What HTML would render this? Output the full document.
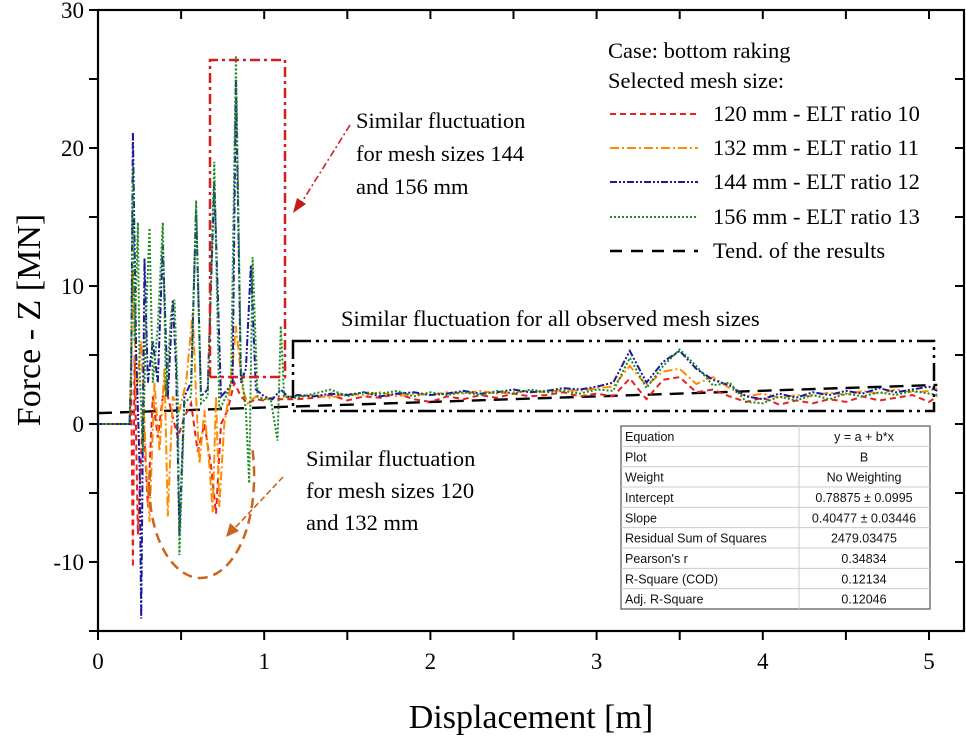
<!DOCTYPE html>
<html><head><meta charset="utf-8"><style>
html,body{margin:0;padding:0;background:#fff;}
svg{display:block;}
text{font-family:"Liberation Serif",serif;}
.tb{font-family:"Liberation Sans",sans-serif;font-size:12.5px;fill:#111;}
</style></head><body>
<svg id="chart" width="966" height="737" viewBox="0 0 966 737">
<g id="marks"></g>
<g id="axes"></g>
</svg>
<script>
const xTicks=[0,1,2,3,4,5];
const yTicks=[-10,0,10,20,30];
const tailX=[1.2,1.3,1.4,1.5,1.6,1.7,1.8,1.9,2.0,2.1,2.2,2.3,2.4,2.5,2.6,2.7,2.8,2.9,3.0,3.1,3.2,3.3,3.4,3.5,3.6,3.7,3.8,3.9,4.0,4.1,4.2,4.3,4.4,4.5,4.6,4.7,4.8,4.9,5.0,5.05];
const redX=[0,0.19,0.2,0.21,0.22,0.24,0.27,0.30,0.33,0.36,0.40,0.44,0.48,0.52,0.56,0.60,0.64,0.68,0.71,0.74,0.78,0.82,0.86,0.90,0.95,1.0,1.05,1.1,1.15];
const redY=[0,0,3,-10.4,5,-8,1,-6,2,-1,3,1,-1,0.5,1.5,-2,0,-3,-6.5,0,1,3,2,1.5,1.8,1.7,1.9,1.8,1.8];
const redTail=[1.8,1.9,2.1,1.7,2.0,1.9,2.2,1.8,1.6,2.0,1.8,2.1,1.9,2.2,2.0,2.1,2.3,2.0,2.2,2.0,3.3,1.8,3.2,3.4,2.3,2.5,2.0,1.6,1.9,1.4,1.7,1.5,1.8,1.6,2.0,1.7,1.9,2.1,1.6,2.0];
const orangeX=[0,0.19,0.2,0.21,0.23,0.26,0.29,0.31,0.34,0.37,0.40,0.42,0.45,0.49,0.53,0.57,0.59,0.61,0.64,0.67,0.69,0.71,0.73,0.76,0.80,0.83,0.87,0.90,0.95,1.0,1.05,1.1,1.15];
const orangeY=[0,0,5,11.2,2,6,-3,-7.1,3,-2,4,-6.7,2,1,3,8.1,2,-2.9,1,-3,-6.4,2,-6,0,3,7.1,2.5,1.5,2,1.8,1.9,2,2];
const orangeTail=[2.0,2.1,1.9,2.2,2.1,2.3,2.0,2.2,2.1,2.3,2.2,2.4,2.2,2.3,2.4,2.3,2.5,2.4,2.6,2.7,4.2,2.8,3.8,4.0,2.9,3.4,2.6,2.0,2.2,1.9,2.1,2.0,2.3,2.1,2.4,2.2,2.5,2.3,2.4,2.6];
const blueX=[0,0.19,0.2,0.21,0.23,0.25,0.26,0.28,0.30,0.33,0.36,0.39,0.42,0.45,0.47,0.49,0.52,0.56,0.59,0.62,0.66,0.70,0.74,0.78,0.81,0.83,0.86,0.89,0.92,0.95,1.0,1.05,1.10,1.15];
const blueY=[0,0,4,21.1,5,-3,-14.1,12,3,6,3,13,2,9,4,-8,2,3,15.5,2,2.5,17.5,2,2.5,3,25,3,4,11.5,2.5,2,1.8,2.5,1.9];
const blueTail=[2.1,2.0,2.2,2.1,2.3,2.0,2.2,2.3,2.1,2.2,2.4,2.2,2.3,2.5,2.3,2.4,2.6,2.5,2.7,3.0,5.3,3.0,4.5,5.3,4.0,3.2,2.8,2.0,1.8,2.2,1.9,2.3,2.1,2.4,2.2,2.6,2.3,2.5,2.7,2.4];
const greenX=[0,0.19,0.2,0.21,0.22,0.24,0.25,0.27,0.29,0.31,0.33,0.36,0.39,0.41,0.44,0.46,0.48,0.49,0.52,0.56,0.59,0.62,0.66,0.70,0.73,0.77,0.80,0.83,0.86,0.89,0.91,0.93,0.96,1.0,1.04,1.08,1.10,1.12,1.15];
const greenY=[0,0,3,18.5,6,14.6,4,-2,8,14.2,3,7,14.6,2,8,9,2,-9.5,1.5,2,16.2,1.5,2,19,1,2,3,26.7,4,1,-4.3,12.1,2,1.8,1.8,-1.2,7.1,2,1.9];
const greenTail=[1.9,2.2,2.5,2.0,2.3,2.2,2.4,2.0,2.3,2.1,2.3,2.1,2.4,2.2,2.5,2.3,2.4,2.2,2.5,2.4,4.8,2.6,4.2,5.4,4.2,2.8,3.0,1.6,1.5,2.0,1.7,2.1,1.8,2.2,2.0,2.3,2.1,2.4,2.2,2.1];
const fitA=0.78875, fitB=0.40477;
const tableLabels=["Equation","Plot","Weight","Intercept","Slope","Residual Sum of Squares","Pearson's r","R-Square (COD)","Adj. R-Square"];
const tableValues=["y = a + b*x","B","No Weighting","0.78875 ± 0.0995","0.40477 ± 0.03446","2479.03475","0.34834","0.12134","0.12046"];

const NS="http://www.w3.org/2000/svg";
const L=98,R=964,T=10,B=631;
const sx=v=>L+v*166.2;
const sy=v=>424-v*13.8;
function mk(tag,attrs,parent,txt){const e=document.createElementNS(NS,tag);for(const k in attrs)e.setAttribute(k,attrs[k]);if(txt!==undefined)e.textContent=txt;parent.appendChild(e);return e;}
const marks=document.getElementById('marks');
const axes=document.getElementById('axes');

function series(xs,ys,tx,ty,color,dash,name){
  const px=xs.concat(tx),py=ys.concat(ty);
  let d='';
  for(let i=0;i<px.length;i++)d+=(i?'L':'M')+sx(px[i]).toFixed(1)+','+sy(py[i]).toFixed(1);
  const p=mk('path',{d:d,fill:'none',stroke:color,'stroke-width':2,'stroke-dasharray':dash},marks);
  
  
}
const tl=mk('line',{x1:sx(0),y1:sy(fitA),x2:sx(5.05),y2:sy(fitA+fitB*5.05),stroke:'#000','stroke-width':2.4,'stroke-dasharray':'14,8'},marks);


series(redX,redY,tailX,redTail,'#e8201f','6,4','series-120mm');
series(orangeX,orangeY,tailX,orangeTail,'#ff8c00','9,3,2,3','series-132mm');
series(blueX,blueY,tailX,blueTail,'#1a1a9a','7,2,2,2,2,2','series-144mm');
series(greenX,greenY,tailX,greenTail,'#1c8c1c','2,2','series-156mm');

const ann=mk('g',{},marks);


const rb=mk('path',{d:'M210,377 L210,60 L285,60 L285,377 L210,377',fill:'none',stroke:'#d41f1f','stroke-width':2.5,'stroke-dasharray':'10,4,3,4'},ann);


const kb=mk('rect',{x:293,y:341,width:641,height:70,fill:'none',stroke:'#000','stroke-width':2.5,'stroke-dasharray':'18,5,3,5,3,5'},ann);


const el=mk('path',{d:'M150,470 C145,540 175,578 200,578 C235,578 262,520 252,445',fill:'none',stroke:'#c8651e','stroke-width':2.5,'stroke-dasharray':'10,6'},ann);


const ra=mk('line',{x1:350,y1:125,x2:300,y2:205,stroke:'#d41f1f','stroke-width':1.6,'stroke-dasharray':'7,3,2,3'},ann);


mk('polygon',{points:'293,213 297,198 306,204',fill:'#c41a1a'},ann);
const oa=mk('line',{x1:283,y1:477,x2:233,y2:530,stroke:'#c8651e','stroke-width':1.6,'stroke-dasharray':'6,3'},ann);


mk('polygon',{points:'226,537 230,523 239,531',fill:'#c8651e'},ann);
function txt(x,y,s,size,name){const t=mk('text',{x:x,y:y,'font-size':size,fill:'#000'},ann,s);return t;}
txt(356,128,'Similar fluctuation',22.5,'annotation-144-156-line1');
txt(356,161,'for mesh sizes 144',22.5,'annotation-144-156-line2');
txt(356,194,'and 156 mm',22.5,'annotation-144-156-line3');
txt(341,326,'Similar fluctuation for all observed mesh sizes',22.5,'annotation-all-sizes');
txt(306,466,'Similar fluctuation',22.5,'annotation-120-132-line1');
txt(306,498,'for mesh sizes 120',22.5,'annotation-120-132-line2');
txt(306,530,'and 132 mm',22.5,'annotation-120-132-line3');

const lg=mk('g',{},marks);


function ltxt(y,s,x,name){const t=mk('text',{x:x,y:y,'font-size':22.5,fill:'#000'},lg,s);}
ltxt(58,'Case: bottom raking',608,'legend-case');
ltxt(88,'Selected mesh size:',608,'legend-title');
const legItems=[['120 mm - ELT ratio 10','#e8201f','6,4',121],['132 mm - ELT ratio 11','#ff8c00','9,3,2,3',155],['144 mm - ELT ratio 12','#1a1a9a','7,2,2,2,2,2',189],['156 mm - ELT ratio 13','#1c8c1c','2,2',224],['Tend. of the results','#000','12,9',258]];
legItems.forEach((it,i)=>{
  const g=mk('g',{},lg);
  
  
  mk('line',{x1:610,x2:698,y1:it[3]-7,y2:it[3]-7,stroke:it[1],'stroke-width':i==4?2.6:2,'stroke-dasharray':it[2]},g);
  mk('text',{x:713,y:it[3],'font-size':22.5,fill:'#000'},g,it[0]);
});

const tb=mk('g',{},marks);


mk('rect',{x:621,y:426,width:309,height:183,fill:'#fff',stroke:'#555','stroke-width':1.2},tb);
const rh=183/9;
for(let i=1;i<9;i++)mk('line',{x1:621,x2:930,y1:426+i*rh,y2:426+i*rh,stroke:'#ccc','stroke-width':1},tb);
mk('line',{x1:799,x2:799,y1:426,y2:609,stroke:'#ccc','stroke-width':1},tb);
tableLabels.forEach((s,i)=>{mk('text',{x:625,y:426+i*rh+15,class:'tb'},tb,s);});
tableValues.forEach((s,i)=>{mk('text',{x:864,y:426+i*rh+15,class:'tb','text-anchor':'middle'},tb,s);});

const fr=mk('rect',{x:L,y:T,width:R-L,height:B-T,fill:'none',stroke:'#000','stroke-width':2.2},axes);


for(let v=0;v<=5.2;v+=0.5){const x=sx(v);if(x>R)break;mk('line',{x1:x,x2:x,y1:B,y2:B+9,stroke:'#000','stroke-width':2},axes);mk('line',{x1:x,x2:x,y1:T,y2:T+9,stroke:'#000','stroke-width':2},axes);}
for(let v=-15;v<=30;v+=5){const y=sy(v);mk('line',{x1:L-9,x2:L,y1:y,y2:y,stroke:'#000','stroke-width':2},axes);mk('line',{x1:R-9,x2:R,y1:y,y2:y,stroke:'#000','stroke-width':2},axes);}
xTicks.forEach(v=>{const t=mk('text',{x:sx(v),y:669,'font-size':23,'text-anchor':'middle'},axes,String(v));});
yTicks.forEach(v=>{const t=mk('text',{x:84,y:sy(v)+8,'font-size':23,'text-anchor':'end'},axes,String(v));});
const xt=mk('text',{x:531,y:728,'font-size':34,'text-anchor':'middle'},axes,'Displacement [m]');


const yt=mk('text',{x:0,y:0,'font-size':34,'text-anchor':'middle',transform:'translate(40,320) rotate(-90)'},axes,'Force - Z [MN]');


</script>
</body></html>
